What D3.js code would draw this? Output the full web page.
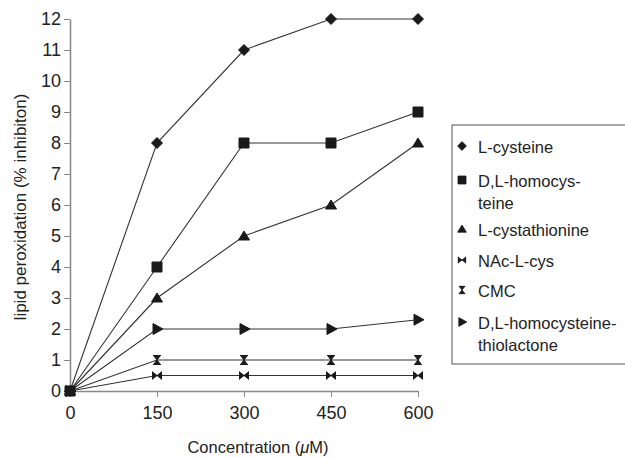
<!DOCTYPE html>
<html>
<head>
<meta charset="utf-8">
<script src="https://cdn.jsdelivr.net/npm/d3@7"></script>
<style>
  body { margin: 0; background: #fff; }
  text { font-family: "Liberation Sans", Arial, sans-serif; fill: #222; }
</style>
</head>
<body>
<svg id="chart" width="625" height="458"></svg>
<script>
    "use strict";
    var concentrations = [0, 150, 300, 450, 600];
    var lCysteine = [0, 8, 11, 12, 12];
    var homocysteine = [0, 4, 8, 8, 9];
    var cystathionine = [0, 3, 5, 6, 8];
    var nacCys = [0, 0.5, 0.5, 0.5, 0.5];
    var cmc = [0, 1, 1, 1, 1];
    var thiolactone = [0, 2, 2, 2, 2.3];
    var yTicks = [0, 1, 2, 3, 4, 5, 6, 7, 8, 9, 10, 11, 12];

    var series = [
        {name: ["L-cysteine"], values: lCysteine, marker: "diamond"},
        {name: ["D,L-homocys-", "teine"], values: homocysteine, marker: "square"},
        {name: ["L-cystathionine"], values: cystathionine, marker: "triangle"},
        {name: ["NAc-L-cys"], values: nacCys, marker: "bowtie"},
        {name: ["CMC"], values: cmc, marker: "hourglass"},
        {name: ["D,L-homocysteine-", "thiolactone"], values: thiolactone, marker: "right"}
    ];

    var svg = d3.select("#chart");
    var x = d3.scaleLinear().domain([0, 600]).range([70, 418]);
    var y = d3.scaleLinear().domain([0, 12]).range([391, 19]);

    // marker shapes, drawn around 0,0
    function markerPath(kind) {
        switch (kind) {
        case "diamond": return "M0,-5.5L5.5,0L0,5.5L-5.5,0Z";
        case "square": return "M-5,-5H5V5H-5Z";
        case "triangle": return "M0,-5L5.5,4H-5.5Z";
        case "bowtie": return "M-4.5,-4V4M4.5,-4V4M-4.5,-3.5L0,0L-4.5,3.5ZM4.5,-3.5L0,0L4.5,3.5Z";
        case "hourglass": return "M-4,-4.5H4M-4,4.5H4M-3.5,-4.5L0,0L3.5,-4.5ZM-3.5,4.5L0,0L3.5,4.5Z";
        case "right": return "M-4,-5.5L6,0L-4,5.5Z";
        }
    }

    // axes
    var yAxis = d3.axisLeft(y).tickValues(yTicks).tickSize(6).tickSizeOuter(0);
    var gy = svg.append("g").attr("transform", "translate(70,0)").call(yAxis);
    var xAxis = d3.axisBottom(x).tickValues(concentrations).tickSize(6).tickSizeOuter(0);
    var gx = svg.append("g").attr("transform", "translate(0,391)").call(xAxis);
    [gx, gy].forEach(function (g) {
        g.select(".domain").attr("stroke", "#888").attr("stroke-width", 1.5);
        g.selectAll(".tick line").attr("stroke", "#888");
        g.selectAll(".tick text").style("font-size", "18px").attr("fill", "#222");
    });
    gy.selectAll(".tick text").attr("x", -9);
    gx.selectAll(".tick text").attr("y", 15);

    var xTitle = svg.append("text").attr("x", 258).attr("y", 453).attr("text-anchor", "middle")
        .style("font-size", "16.5px");
    xTitle.append("tspan").text("Concentration (");
    xTitle.append("tspan").style("font-style", "italic").text("μ");
    xTitle.append("tspan").text("M)");

    svg.append("text").attr("transform", "translate(26,207) rotate(-90)")
        .attr("text-anchor", "middle").style("font-size", "17px")
        .text("lipid peroxidation (% inhibiton)");

    var line = d3.line().x(function (d, i) { return x(concentrations[i]); }).y(function (d) { return y(d); });

    series.forEach(function (s) {
        svg.append("path").datum(s.values).attr("d", line)
            .attr("fill", "none").attr("stroke", "#333").attr("stroke-width", 1.1);
    });
    series.slice().reverse().forEach(function (s) {
        svg.selectAll(null).data(s.values).enter().append("path")
            .attr("transform", function (d, i) { return "translate(" + x(concentrations[i]) + "," + y(d) + ")"; })
            .attr("d", markerPath(s.marker))
            .attr("fill", "#1a1a1a").attr("stroke", "#1a1a1a").attr("stroke-width", 1);
    });
    // origin square drawn on top
    svg.append("path").attr("transform", "translate(" + x(0) + "," + y(0) + ")")
        .attr("d", markerPath("square")).attr("fill", "#1a1a1a");

    // legend
    var legend = svg.append("g");
    legend.append("rect").attr("x", 452).attr("y", 125).attr("width", 180).attr("height", 239)
        .attr("fill", "#fff").attr("stroke", "#555").attr("stroke-width", 1);
    var rowY = [147, 181, 230, 261, 291, 323];
    series.forEach(function (s, i) {
        legend.append("path").attr("transform", "translate(462," + (rowY[i] - 1) + ") scale(0.8)")
            .attr("d", markerPath(s.marker)).attr("fill", "#1a1a1a").attr("stroke", "#1a1a1a");
        s.name.forEach(function (n, j) {
            legend.append("text").attr("x", 478).attr("y", rowY[i] + 6 + j * 22)
                .style("font-size", "16.5px").text(n);
        });
    });
</script>
</body>
</html>
